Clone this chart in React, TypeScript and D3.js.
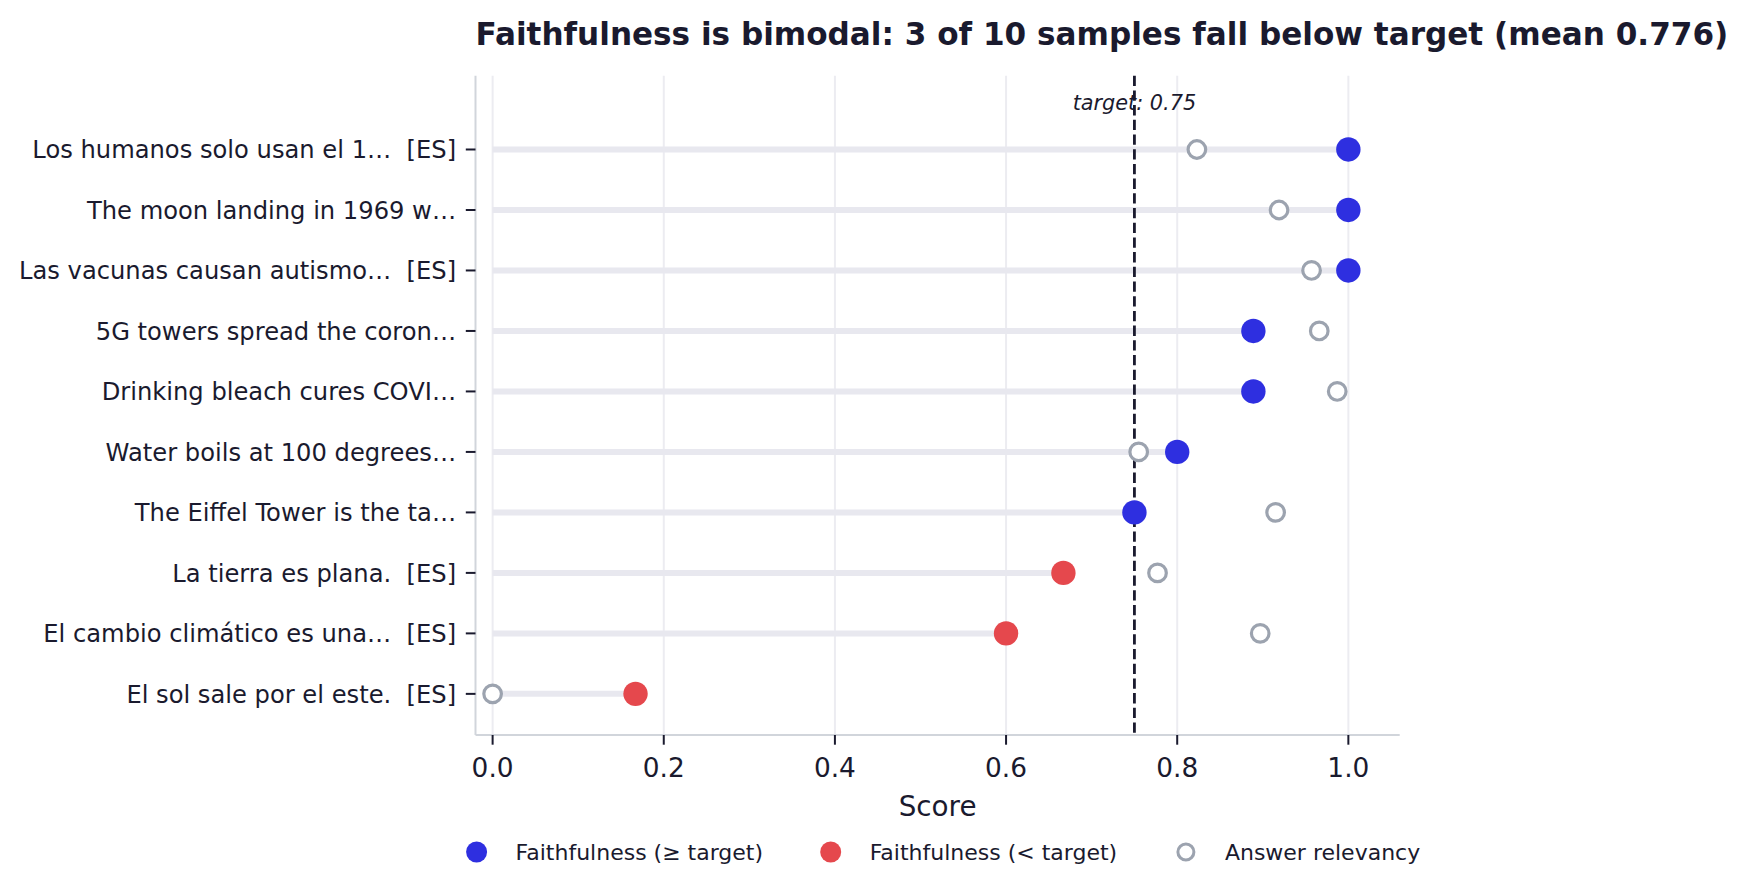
import React from "react";
import * as d3 from "d3";

const labels = [
  "Los humanos solo usan el 1…  [ES]",
  "The moon landing in 1969 w…",
  "Las vacunas causan autismo…  [ES]",
  "5G towers spread the coron…",
  "Drinking bleach cures COVI…",
  "Water boils at 100 degrees…",
  "The Eiffel Tower is the ta…",
  "La tierra es plana.  [ES]",
  "El cambio climático es una…  [ES]",
  "El sol sale por el este.  [ES]",
];
const faithfulness = [1.0, 1.0, 1.0, 0.889, 0.889, 0.8, 0.75, 0.667, 0.6, 0.167];
const relevancy = [0.823, 0.919, 0.957, 0.966, 0.987, 0.755, 0.915, 0.777, 0.897, 0.0];
const xTicks = [0, 0.2, 0.4, 0.6, 0.8, 1.0];
const target = 0.75;
const titleText = "Faithfulness is bimodal: 3 of 10 samples fall below target (mean 0.776)";
const legendLabels = ["Faithfulness (≥ target)", "Faithfulness (< target)", "Answer relevancy"];

const W = 1746;
const H = 893;
const FONT = "'DejaVu Sans', sans-serif";
const DARK = "#1a1a2e";
const BLUE = "#2e2fe0";
const RED = "#e5484d";
const GRAY = "#9ca3af";
const STEM = "#e8e8ef";
const GRID = "#ececf1";
const SPINE = "#d1d5db";

export default function App() {
  const left = 475.5, right = 1399.7, top = 75.7, bottom = 735;
  const x = d3.scaleLinear().domain([-0.02, 1.06]).range([left, right]);
  const y = d3.scaleLinear().domain([-1.22, 9.68]).range([top, bottom]);
  const fmt = d3.format(".1f");
  const legendX = [476.6, 830.7, 1185.9];
  const legendY = 852;

  return (
    <svg width={W} height={H} style={{ display: "block", position: "absolute", left: 0, top: 0, background: "#fff" }} fontFamily={FONT}>
      <rect x={0} y={0} width={W} height={H} fill="#fff" />
      {/* grid */}
      {xTicks.map((t) => (
        <line key={"g" + t} x1={x(t)} x2={x(t)} y1={top} y2={bottom} stroke={GRID} strokeWidth={2} />
      ))}
      {/* stems */}
      {faithfulness.map((f, i) => (
        <line key={"s" + i} x1={x(0)} x2={x(f)} y1={y(i)} y2={y(i)} stroke={STEM} strokeWidth={6} />
      ))}
      {/* target line */}
      <line x1={x(target)} x2={x(target)} y1={top} y2={bottom} stroke={DARK} strokeWidth={2.8} strokeDasharray="10.3,4.4" />
      <text x={x(target)} y={110} textAnchor="middle" fontSize={20.8} fontStyle="italic" fill={DARK}>
        target: 0.75
      </text>
      {/* relevancy */}
      {relevancy.map((r, i) => (
        <circle key={"r" + i} cx={x(r)} cy={y(i)} r={8.8} fill="#fff" stroke={GRAY} strokeWidth={3.2} />
      ))}
      {/* faithfulness */}
      {faithfulness.map((f, i) => (
        <circle key={"f" + i} cx={x(f)} cy={y(i)} r={12.2} fill={f >= target ? BLUE : RED} />
      ))}
      {/* spines */}
      <line x1={left} x2={left} y1={top} y2={bottom} stroke={SPINE} strokeWidth={2} />
      <line x1={left} x2={right} y1={bottom} y2={bottom} stroke={SPINE} strokeWidth={2} />
      {/* y ticks */}
      {labels.map((l, i) => (
        <g key={"yl" + i}>
          <line x1={left - 9.7} x2={left} y1={y(i)} y2={y(i)} stroke={DARK} strokeWidth={2} />
          <text x={left - 19.4} y={y(i)} dy="0.36em" textAnchor="end" fontSize={24.2} fill={DARK} style={{ whiteSpace: "pre" }}>
            {l}
          </text>
        </g>
      ))}
      {/* x ticks */}
      {xTicks.map((t) => (
        <g key={"xt" + t}>
          <line x1={x(t)} x2={x(t)} y1={bottom} y2={bottom + 9.7} stroke={DARK} strokeWidth={2} />
          <text x={x(t)} y={777} textAnchor="middle" fontSize={26.4} fill={DARK}>
            {fmt(t)}
          </text>
        </g>
      ))}
      <text x={(left + right) / 2} y={816} textAnchor="middle" fontSize={27.8} fill={DARK}>
        Score
      </text>
      {/* title */}
      <text x={left} y={44.5} fontSize={31.1} fontWeight="bold" fill={DARK}>
        {titleText}
      </text>
      {/* legend */}
      {legendLabels.map((l, i) => (
        <g key={"lg" + i}>
          {i < 2 ? (
            <circle cx={legendX[i]} cy={legendY} r={10.5} fill={i === 0 ? BLUE : RED} />
          ) : (
            <circle cx={legendX[i]} cy={legendY} r={8} fill="#fff" stroke={GRAY} strokeWidth={3} />
          )}
          <text x={legendX[i] + 39} y={legendY} dy="0.36em" fontSize={22} fill={DARK}>
            {l}
          </text>
        </g>
      ))}
    </svg>
  );
}
